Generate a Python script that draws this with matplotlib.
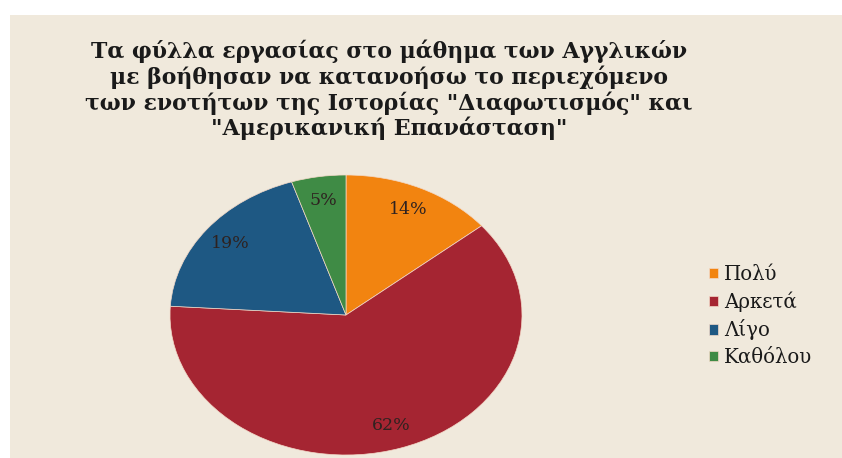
import matplotlib
matplotlib.use("Agg")
import matplotlib.pyplot as plt
from matplotlib.patches import Rectangle

title = ('Τα φύλλα εργασίας στο μάθημα των Αγγλικών\n'
         'με βοήθησαν να κατανοήσω το περιεχόμενο\n'
         'των ενοτήτων της Ιστορίας "Διαφωτισμός" και\n'
         '"Αμερικανική Επανάσταση"')
categories = ['Πολύ', 'Αρκετά', 'Λίγο', 'Καθόλου']
values = [14, 62, 19, 5]
colors = ['#F28410', '#A52532', '#1E5883', '#3F8B45']

W, H = 842, 458
fig = plt.figure(figsize=(W / 100, H / 100), dpi=100)
fig.patch.set_facecolor('white')
fig.patches.append(Rectangle((10 / W, 0), 1 - 10 / W, (H - 15) / H,
                             transform=fig.transFigure, facecolor='#F0E9DC',
                             edgecolor='none', zorder=-5))

fig.text(389 / W, 1 - 90 / H, title, ha='center', va='center',
         fontsize=15.8, fontweight='bold', family='DejaVu Serif',
         color='#1a1a1a', linespacing=1.12)

# pie is drawn as an ellipse: 352 px wide, 280 px tall
ax = fig.add_axes([170 / W, 3 / H, 352 / W, 280 / H])
ax.set_facecolor('none')
wedges, texts, autotexts = ax.pie(
    values, colors=colors, startangle=90, counterclock=False,
    autopct=lambda p: f'{p:.0f}%', pctdistance=0.83,
    wedgeprops=dict(edgecolor='#f3d9c8', linewidth=0.5),
    textprops=dict(fontsize=12.5, family='DejaVu Serif', color='#2e2220'))
ax.set_aspect('auto')
ax.set_xlim(-1, 1)
ax.set_ylim(-1, 1)

fig.legend(wedges, categories, loc='center left',
           bbox_to_anchor=(699 / W, 1 - 316 / H), frameon=False,
           prop=dict(family='DejaVu Serif', size=14.2),
           handlelength=0.45, handleheight=0.45, handletextpad=0.3,
           labelspacing=0.38, labelcolor='#1a1a1a', borderpad=0)

fig.savefig('out.png', dpi=100)
